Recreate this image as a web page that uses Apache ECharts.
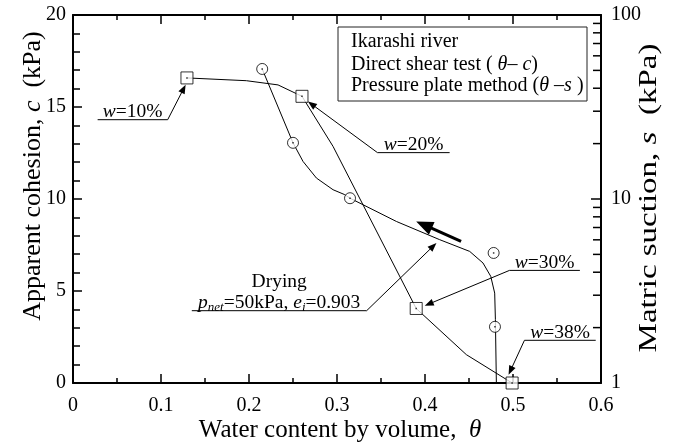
<!DOCTYPE html>
<html><head><meta charset="utf-8">
<script src="https://cdn.jsdelivr.net/npm/echarts@6/dist/echarts.min.js"></script>
<style>html,body{margin:0;padding:0;background:#fff}#c{width:675px;height:444px}</style>
</head><body><div id="c"></div>
<script>
// Direct shear test (theta - c), left axis
const shearTheta = [0.1295, 0.2602, 0.390, 0.499];
const shearC = [16.58, 15.58, 4.05, 0];
// Fitted curve through shear points
const shearCurveTheta = [0.1295, 0.197, 0.233, 0.2602, 0.2955, 0.390, 0.447, 0.499];
const shearCurveC = [16.58, 16.43, 16.2, 15.58, 12.86, 4.05, 1.54, 0];
// Pressure plate method (theta - s), right log axis
const plateTheta = [0.215, 0.250, 0.3148, 0.478, 0.4795];
const plateS = [50.9, 20.2, 10.1, 5.09, 2.02];
const plateCurveTheta = [0.215, 0.250, 0.2614, 0.2766, 0.2955, 0.3088, 0.3148, 0.3675, 0.4167, 0.4508, 0.4659, 0.4747, 0.4792, 0.480, 0.4811];
const plateCurveS = [50.9, 20.2, 16.0, 13.0, 11.23, 10.56, 10.1, 7.55, 6.01, 5.19, 4.49, 3.80, 3.08, 2.21, 1.0];
// Log axis minor tick values
const logMinorTicks = [2, 3, 4, 5, 6, 7, 8, 9, 20, 30, 40, 50, 60, 70, 80, 90];
// Annotations (data units: theta, c)
const annoText = ['{i|w}{n|=10%}', '{i|w}{n|=20%}', '{i|w}{n|=30%}', '{i|w}{n|=38%}', '{n|Drying}\n{i|p}{sub|net}{n|=50kPa, }{i|e}{sub|i}{n|=0.903}'];
const annoLineFrom = [0.028, 0.346, 0.496, 0.513, 0.135];
const annoLineTo = [0.1076, 0.428, 0.576, 0.594, 0.3337];
const annoLineC = [14.31, 12.52, 6.12, 2.32, 3.93];
const annoTipTheta = [0.128, 0.267, 0.3997, 0.495, 0.413];
const annoTipC = [16.21, 15.30, 4.20, 0.45, 7.61];
const annoLeaderEnd = ['right', 'left', 'left', 'left', 'right'];
// Drying direction arrow (theta, c): tail -> tip
const dryArrowTail = [0.441, 7.70];
const dryArrowTip = [0.390, 8.78];

const FF = '"Liberation Serif", "Times New Roman", serif';
const richAnno = {
  n: {font: '19.5px ' + FF, lineHeight: 21},
  i: {font: 'italic 19.5px ' + FF, lineHeight: 21},
  sub: {font: 'italic 13px ' + FF, lineHeight: 13, verticalAlign: 'bottom'}
};
const richTitle = {
  n: {font: '25px ' + FF},
  i: {font: 'italic 25px ' + FF}
};
const richTitleL = {
  n: {font: '26px ' + FF},
  i: {font: 'italic 26px ' + FF}
};
const richLegend = {
  n: {font: '20px ' + FF},
  i: {font: 'italic 20px ' + FF}
};

function arrowHead(tip, from, L, W) {
  const dx = tip[0] - from[0], dy = tip[1] - from[1];
  const len = Math.sqrt(dx * dx + dy * dy) || 1;
  const ux = dx / len, uy = dy / len;
  const nx = -uy, ny = ux;
  const bx = tip[0] - ux * L, by = tip[1] - uy * L;
  return {pts: [tip, [bx + nx * W, by + ny * W], [bx - nx * W, by - ny * W]], base: [tip[0] - ux * L * 0.8, tip[1] - uy * L * 0.8]};
}

const chart = echarts.init(document.getElementById('c'), null, {renderer: 'canvas'});
const axisLineStyle = {color: '#000', width: 2};
chart.setOption({
  animation: false,
  backgroundColor: '#fff',
  grid: {left: 73, right: 74, top: 15, bottom: 61, containLabel: false, outerBoundsMode: 'none'},
  xAxis: [{
    type: 'value', min: 0, max: 0.6, interval: 0.1, position: 'bottom',
    axisLine: {show: true, onZero: false, lineStyle: axisLineStyle},
    axisTick: {show: true, inside: true, length: 9, lineStyle: {color: '#000', width: 1.5}},
    minorTick: {show: true, splitNumber: 2, length: 5, lineStyle: {color: '#000', width: 1.5}},
    axisLabel: {color: '#000', fontFamily: FF, fontSize: 20, margin: 13},
    splitLine: {show: false}
  }, {
    type: 'value', min: 0, max: 0.6, interval: 0.1, position: 'top',
    axisLine: {show: true, onZero: false, lineStyle: axisLineStyle},
    axisTick: {show: true, inside: true, length: 9, lineStyle: {color: '#000', width: 1.5}},
    minorTick: {show: true, splitNumber: 2, length: 5, lineStyle: {color: '#000', width: 1.5}},
    axisLabel: {show: false},
    splitLine: {show: false}
  }],
  yAxis: [{
    type: 'value', min: 0, max: 20, interval: 5, position: 'left',
    axisLine: {show: true, onZero: false, lineStyle: axisLineStyle},
    axisTick: {show: true, inside: true, length: 9, lineStyle: {color: '#000', width: 1.5}},
    minorTick: {show: true, splitNumber: 5, length: 7, lineStyle: {color: '#000', width: 1.5}},
    axisLabel: {color: '#000', fontFamily: FF, fontSize: 20, margin: 7},
    splitLine: {show: false}
  }, {
    type: 'log', logBase: 10, min: 1, max: 100, position: 'right',
    axisLine: {show: true, onZero: false, lineStyle: axisLineStyle},
    axisTick: {show: true, inside: true, length: 10, lineStyle: {color: '#000', width: 1.5}},
    minorTick: {show: false},
    axisLabel: {color: '#000', fontFamily: FF, fontSize: 20, margin: 10},
    splitLine: {show: false}
  }],
  graphic: [
    {type: 'rect', shape: {x: 338, y: 27, width: 249, height: 74}, style: {fill: '#fff', stroke: '#222', lineWidth: 1}, z: 50},
    {type: 'text', x: 351, y: 42, z: 51, style: {text: '{n|Ikarashi river}', rich: richLegend, fill: '#000', align: 'left', verticalAlign: 'middle'}},
    {type: 'text', x: 351, y: 64.5, z: 51, style: {text: '{n|Direct shear test ( }{i|θ}{n|– }{i|c}{n|)}', rich: richLegend, fill: '#000', align: 'left', verticalAlign: 'middle'}},
    {type: 'text', x: 351, y: 85.5, z: 51, style: {text: '{n|Pressure plate method (}{i|θ}{n| –}{i|s}{n| )}', rich: richLegend, fill: '#000', align: 'left', verticalAlign: 'middle'}},
    {type: 'text', x: 33, y: 176, rotation: Math.PI / 2, style: {text: '{n|Apparent cohesion, }{i|c}{n|  (kPa)}', rich: richTitleL, fill: '#000', align: 'center', verticalAlign: 'middle'}},
    {type: 'text', x: 649, y: 198, rotation: Math.PI / 2, scaleX: 1.32, style: {text: '{n|Matric suction, }{i|s}{n|  (kPa)}', rich: richTitle, fill: '#000', align: 'center', verticalAlign: 'middle'}},
    {type: 'text', x: 340, y: 430, style: {text: '{n|Water content by volume,  }{i|θ}', rich: richTitle, fill: '#000', align: 'center', verticalAlign: 'middle'}}
  ],
  series: [
    {
      name: 'shearCurve', type: 'line', xAxisIndex: 0, yAxisIndex: 0, z: 2,
      data: shearCurveTheta.map((t, i) => [t, shearCurveC[i]]),
      showSymbol: false, symbol: 'none', smooth: false,
      lineStyle: {color: '#000', width: 1}
    },
    {
      name: 'plateCurve', type: 'line', xAxisIndex: 0, yAxisIndex: 1, z: 2,
      data: plateCurveTheta.map((t, i) => [t, plateCurveS[i]]),
      showSymbol: false, symbol: 'none', smooth: false,
      lineStyle: {color: '#000', width: 1}
    },
    {
      name: 'Direct shear test', type: 'scatter', xAxisIndex: 0, yAxisIndex: 0, z: 4,
      data: shearTheta.map((t, i) => [t, shearC[i]]),
      symbol: 'rect', symbolSize: 12,
      itemStyle: {color: '#fff', borderColor: '#000', borderWidth: 1}
    },
    {
      name: 'Pressure plate method', type: 'scatter', xAxisIndex: 0, yAxisIndex: 1, z: 4,
      data: plateTheta.map((t, i) => [t, plateS[i]]),
      symbol: 'circle', symbolSize: 11,
      itemStyle: {color: '#fff', borderColor: '#000', borderWidth: 1}
    },
    {
      name: 'shearDots', type: 'scatter', xAxisIndex: 0, yAxisIndex: 0, z: 5,
      data: shearTheta.map((t, i) => [t, shearC[i]]),
      symbol: 'rect', symbolSize: 1.5, itemStyle: {color: '#000'}
    },
    {
      name: 'plateDots', type: 'scatter', xAxisIndex: 0, yAxisIndex: 1, z: 5,
      data: plateTheta.map((t, i) => [t, plateS[i]]),
      symbol: 'rect', symbolSize: 1.5, itemStyle: {color: '#000'}
    },
    {
      name: 'logMinorTicks', type: 'custom', xAxisIndex: 0, yAxisIndex: 1, z: 6, silent: true,
      data: logMinorTicks.map(s => [0.6, s]),
      renderItem: function (params, api) {
        const p = api.coord([api.value(0), api.value(1)]);
        return {type: 'line', shape: {x1: p[0] - 1, y1: p[1], x2: p[0] - 8, y2: p[1]}, style: {stroke: '#000', lineWidth: 1.5}};
      }
    },
    {
      name: 'annotations', type: 'custom', xAxisIndex: 0, yAxisIndex: 0, z: 7, silent: true,
      data: annoText.map((t, i) => [annoTipTheta[i], annoTipC[i], i]),
      renderItem: function (params, api) {
        const i = params.dataIndex;
        const p1 = api.coord([annoLineFrom[i], annoLineC[i]]);
        const p2 = api.coord([annoLineTo[i], annoLineC[i]]);
        const tip = api.coord([annoTipTheta[i], annoTipC[i]]);
        const start = annoLeaderEnd[i] === 'left' ? p1 : p2;
        const ah = arrowHead(tip, start, 9, 3.5);
        return {
          type: 'group',
          children: [
            {type: 'line', shape: {x1: p1[0], y1: p1[1], x2: p2[0], y2: p2[1]}, style: {stroke: '#000', lineWidth: 1}},
            {type: 'line', shape: {x1: start[0], y1: start[1], x2: ah.base[0], y2: ah.base[1]}, style: {stroke: '#000', lineWidth: 1}},
            {type: 'polygon', shape: {points: ah.pts}, style: {fill: '#000'}},
            {type: 'text', x: (p1[0] + p2[0]) / 2, y: p1[1] + 3,
             style: {text: annoText[i], rich: richAnno, fill: '#000', align: 'center', verticalAlign: 'bottom'}}
          ]
        };
      }
    },
    {
      name: 'dryingArrow', type: 'custom', xAxisIndex: 0, yAxisIndex: 0, z: 7, silent: true,
      data: [[dryArrowTip[0], dryArrowTip[1]]],
      renderItem: function (params, api) {
        const tail = api.coord(dryArrowTail);
        const tip = api.coord(dryArrowTip);
        const ah = arrowHead(tip, tail, 17, 7);
        return {
          type: 'group',
          children: [
            {type: 'line', shape: {x1: tail[0], y1: tail[1], x2: ah.base[0], y2: ah.base[1]}, style: {stroke: '#000', lineWidth: 3}},
            {type: 'polygon', shape: {points: ah.pts}, style: {fill: '#000'}}
          ]
        };
      }
    }
  ]
});
</script>
</body></html>
